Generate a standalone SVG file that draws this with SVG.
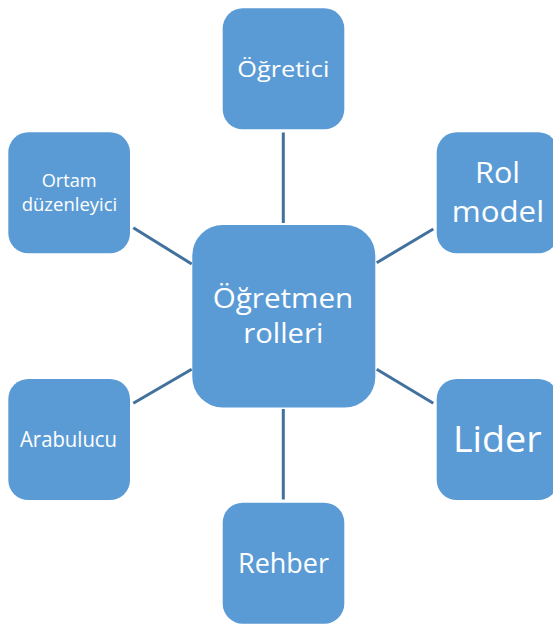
<svg xmlns="http://www.w3.org/2000/svg" width="553" height="624" viewBox="0 0 553 624">
<style>
.box{fill:#5B9BD5;stroke:none}
.lbl{fill:#FFFFFF;font-family:"Open Sans","Noto Sans","Liberation Sans",sans-serif;text-anchor:middle}
.conn{stroke:#41719C;stroke-width:3;fill:none}
</style>
<rect width="553" height="624" fill="#FFFFFF"/>
<g id="connectors">
<line class="conn" x1="283.3" y1="132.5" x2="283.3" y2="223"/>
<line class="conn" x1="283.3" y1="409" x2="283.3" y2="499.5"/>
<line class="conn" x1="133.3" y1="227.7" x2="191.7" y2="264"/>
<line class="conn" x1="433.3" y1="229" x2="376.7" y2="262.7"/>
<line class="conn" x1="133.3" y1="403.3" x2="191.7" y2="369.3"/>
<line class="conn" x1="376.7" y1="369.3" x2="433.3" y2="403.3"/>
</g>
<g id="center">
<rect class="box" x="192.3" y="225" width="183" height="182.5" rx="30.5"/>
<text class="lbl" x="283" y="308.3" font-size="28" textLength="140.6" lengthAdjust="spacingAndGlyphs">Öğretmen</text>
<text class="lbl" x="283.3" y="343.3" font-size="28" textLength="80" lengthAdjust="spacingAndGlyphs">rolleri</text>
</g>
<g id="ogretici">
<rect class="box" x="222.7" y="8.3" width="121.6" height="121" rx="20"/>
<text class="lbl" x="283.3" y="76.7" font-size="22.5" textLength="92" lengthAdjust="spacingAndGlyphs">Öğretici</text>
</g>
<g id="rehber">
<rect class="box" x="222.7" y="502.7" width="121.6" height="121" rx="20"/>
<text class="lbl" x="283.5" y="572.7" font-size="28" textLength="91" lengthAdjust="spacingAndGlyphs">Rehber</text>
</g>
<g id="ortam">
<rect class="box" x="8.3" y="132.3" width="121.7" height="121" rx="20"/>
<text class="lbl" x="69.2" y="186.7" font-size="19" textLength="55" lengthAdjust="spacingAndGlyphs">Ortam</text>
<text class="lbl" x="69.5" y="210.7" font-size="19" textLength="95.6" lengthAdjust="spacingAndGlyphs">düzenleyici</text>
</g>
<g id="arabulucu">
<rect class="box" x="8.3" y="379" width="121.7" height="121" rx="20"/>
<text class="lbl" x="68.5" y="447.3" font-size="22" textLength="97" lengthAdjust="spacingAndGlyphs">Arabulucu</text>
</g>
<g id="rolmodel">
<rect class="box" x="436.7" y="132.3" width="121.6" height="121" rx="20"/>
<text class="lbl" x="497.5" y="183.3" font-size="30" textLength="45" lengthAdjust="spacingAndGlyphs">Rol</text>
<text class="lbl" x="497.9" y="221.7" font-size="30" textLength="92.3" lengthAdjust="spacingAndGlyphs">model</text>
</g>
<g id="lider">
<rect class="box" x="436.7" y="379" width="121.6" height="121" rx="20"/>
<text class="lbl" x="497.3" y="451.7" font-size="37" textLength="88.7" lengthAdjust="spacingAndGlyphs">Lider</text>
</g>
</svg>
